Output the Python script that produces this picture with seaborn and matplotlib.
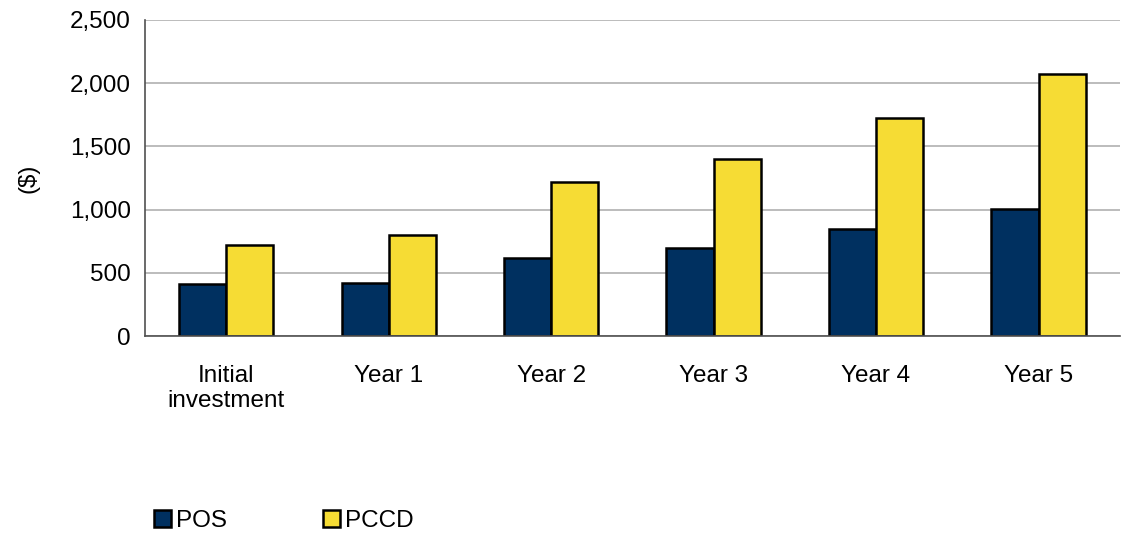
import numpy as np
import pandas as pd
import matplotlib
matplotlib.use("Agg")
import matplotlib.pyplot as plt
import seaborn as sns
from matplotlib.ticker import FuncFormatter, FixedLocator

# data
categories = ["Initial\ninvestment", "Year 1", "Year 2", "Year 3", "Year 4", "Year 5"]
pos_values = [408, 418, 614, 694, 847, 1005]
pccd_values = [717, 797, 1217, 1402, 1725, 2069]
series = ["POS", "PCCD"]
colors = ["#003060", "#F6DC34"]

df = pd.DataFrame({
    "category": categories * 2,
    "value": pos_values + pccd_values,
    "series": ["POS"] * len(categories) + ["PCCD"] * len(categories),
})

sns.set_style("white")
plt.rcParams["font.family"] = ["Liberation Sans", "DejaVu Sans"]
plt.rcParams["text.color"] = "black"
plt.rcParams["xtick.labelcolor"] = "black"
plt.rcParams["ytick.labelcolor"] = "black"
plt.rcParams["axes.labelcolor"] = "black"
fs = 17.5

fig = plt.figure(figsize=(11.22, 5.33), dpi=100)
ax = fig.add_axes([0.1292, 0.3696, 0.8688, 0.5929])

sns.barplot(data=df, x="category", y="value", hue="series", order=categories,
            hue_order=series, palette=colors, saturation=1, width=0.58,
            edgecolor="black", linewidth=1.8, ax=ax, legend=True)

ax.set_ylim(0, 2500)
ax.set_xlim(-0.5, len(categories) - 0.5)
ax.set_yticks(np.arange(0, 2501, 500))
ax.yaxis.set_major_formatter(FuncFormatter(lambda v, p: f"{v:,.0f}"))
ax.yaxis.grid(True, color="#b0b0b0", linewidth=1.2)
ax.set_axisbelow(True)

# tick marks at the category boundaries, labels at the centres
ax.xaxis.set_minor_locator(FixedLocator(np.arange(-0.5, len(categories), 1)))
ax.tick_params(axis="x", which="major", length=0, pad=21, labelsize=fs)
ax.tick_params(axis="x", which="minor", length=6, width=1, color="#505050", direction="out")
ax.tick_params(axis="y", length=6, width=1, color="#505050", direction="out", labelsize=fs, pad=4)
for lbl in ax.get_xticklabels():
    lbl.set_multialignment("center")
    lbl.set_linespacing(1.15)

ax.set_xlabel("")
ax.set_ylabel("($)", fontsize=fs, labelpad=22)

for side in ["top", "right"]:
    ax.spines[side].set_visible(False)
for side in ["left", "bottom"]:
    ax.spines[side].set_color("#505050")
    ax.spines[side].set_linewidth(1.2)

handles, labels = ax.get_legend_handles_labels()
ax.get_legend().remove()
fig.legend(handles, labels, loc="lower left", bbox_to_anchor=(0.118, -0.04),
           ncol=2, frameon=False, fontsize=fs, handlelength=0.7, handleheight=0.7,
           handletextpad=0.2, columnspacing=3.95)

fig.savefig("out.png", dpi=100)
